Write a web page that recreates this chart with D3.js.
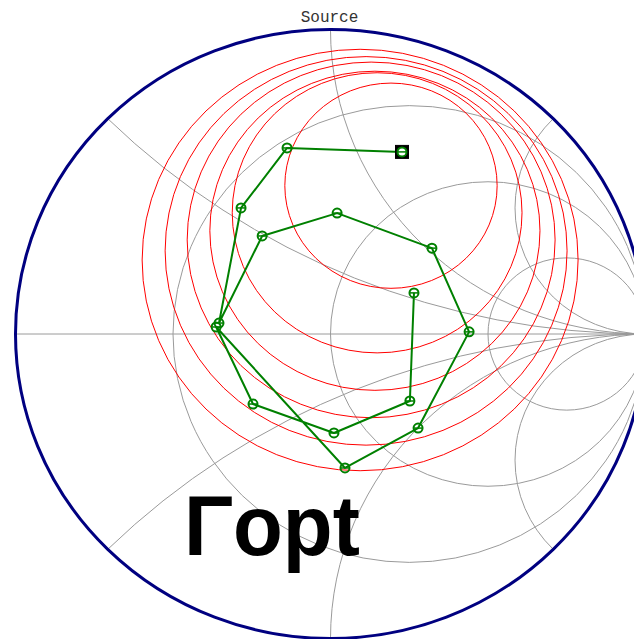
<!DOCTYPE html>
<html>
<head>
<meta charset="utf-8">
<script src="https://cdn.jsdelivr.net/npm/d3@7"></script>
<style>
  html, body { margin: 0; padding: 0; background: #fff; }
  svg { display: block; }
</style>
</head>
<body>
<svg id="chart" width="634" height="639"></svg>
<script>
// Smith chart grid: constant resistance and constant reactance values
const resistanceGrid = [1 / 3, 1, 3];
const reactanceGrid = [Math.SQRT2 - 1, 1, Math.SQRT2 + 1];

// Source reflection coefficient sweep (real / imaginary parts of Γs)
const gammaRe = [0.227, -0.138, -0.284, -0.354, -0.217, 0.021, 0.322, 0.440, 0.278, 0.046, -0.363, -0.246, 0.011, 0.252, 0.265];
const gammaIm = [0.598, 0.611, 0.414, 0.036, 0.322, 0.397, 0.282, 0.007, -0.309, -0.440, 0.023, -0.230, -0.325, -0.220, 0.135];

// Constant noise figure circles (centre and radius in the Γ plane)
const noiseRe = [0.192, 0.148, 0.141, 0.129, 0.113, 0.094];
const noiseIm = [0.487, 0.398, 0.339, 0.309, 0.273, 0.243];
const noiseR  = [0.337, 0.460, 0.524, 0.584, 0.638, 0.692];

const chartTitle = "Source";
const optLabel = "Γopt";

const svg = d3.select("#chart");
const x = d3.scaleLinear().domain([-1, 1]).range([15.5, 645.5]);
const y = d3.scaleLinear().domain([-1, 1]).range([638.5, 29.5]);
const rx = r => x(r) - x(0);
const ry = r => y(0) - y(r);

svg.append("rect").attr("width", 634).attr("height", 639).attr("fill", "#fff");

const defs = svg.append("defs");
defs.append("clipPath").attr("id", "unit")
  .append("ellipse")
  .attr("cx", x(0)).attr("cy", y(0)).attr("rx", rx(1)).attr("ry", ry(1));

const grid = svg.append("g").attr("clip-path", "url(#unit)")
  .attr("fill", "none").attr("stroke", "#9a9a9a").attr("stroke-width", 1);

// real axis
grid.append("line")
  .attr("x1", x(-1)).attr("x2", x(1)).attr("y1", y(0)).attr("y2", y(0));

// constant resistance circles
grid.selectAll("ellipse.r").data(resistanceGrid).join("ellipse")
  .attr("class", "r")
  .attr("cx", r => x(r / (1 + r))).attr("cy", y(0))
  .attr("rx", r => rx(1 / (1 + r))).attr("ry", r => ry(1 / (1 + r)));

// constant reactance arcs (positive and negative)
const reactance = reactanceGrid.flatMap(v => [v, -v]);
grid.selectAll("ellipse.x").data(reactance).join("ellipse")
  .attr("class", "x")
  .attr("cx", x(1)).attr("cy", v => y(1 / v))
  .attr("rx", v => rx(1 / Math.abs(v))).attr("ry", v => ry(1 / Math.abs(v)));

// noise circles
svg.append("g").attr("fill", "none").attr("stroke", "#ff0000").attr("stroke-width", 1)
  .selectAll("ellipse").data(noiseR).join("ellipse")
  .attr("cx", (d, i) => x(noiseRe[i])).attr("cy", (d, i) => y(noiseIm[i]))
  .attr("rx", d => rx(d)).attr("ry", d => ry(d));

// source trajectory
const pts = gammaRe.map((re, i) => [re, gammaIm[i]]);
const line = d3.line().x(d => x(d[0])).y(d => y(d[1]));
svg.append("path").datum(pts).attr("d", line)
  .attr("fill", "none").attr("stroke", "#008000").attr("stroke-width", 2)
  .attr("stroke-linejoin", "round");

// start marker
svg.append("rect")
  .attr("x", x(pts[0][0]) - 6.5).attr("y", y(pts[0][1]) - 6.5)
  .attr("width", 13).attr("height", 13)
  .attr("fill", "#000").attr("stroke", "#000").attr("stroke-width", 1);

// point markers: ring with a horizontal bar
const mk = svg.append("g").attr("stroke", "#008000").attr("stroke-width", 2);
mk.selectAll("circle").data(pts).join("circle")
  .attr("cx", d => x(d[0])).attr("cy", d => y(d[1])).attr("r", 4.5)
  .attr("fill", (d, i) => i === 0 ? "#fff" : "none");
mk.selectAll("line").data(pts).join("line")
  .attr("x1", d => x(d[0]) - 4).attr("x2", d => x(d[0]) + 4)
  .attr("y1", d => y(d[1])).attr("y2", d => y(d[1]))
  .attr("stroke-width", 1.5);

// boundary |Γ| = 1
svg.append("ellipse")
  .attr("cx", x(0)).attr("cy", y(0)).attr("rx", rx(1)).attr("ry", ry(1))
  .attr("fill", "none").attr("stroke", "#000080").attr("stroke-width", 3);

svg.append("text")
  .attr("x", x(0) - 1).attr("y", 21.5)
  .attr("text-anchor", "middle")
  .attr("font-family", "'Liberation Mono', 'Courier New', monospace")
  .attr("font-size", 16).attr("fill", "#333")
  .text(chartTitle);

svg.append("text")
  .attr("transform", "translate(184,555) scale(0.96,1)")
  .attr("font-family", "'Liberation Sans', Arial, sans-serif")
  .attr("font-weight", "bold").attr("font-size", 85).attr("fill", "#000")
  .text(optLabel);
</script>
</body>
</html>
